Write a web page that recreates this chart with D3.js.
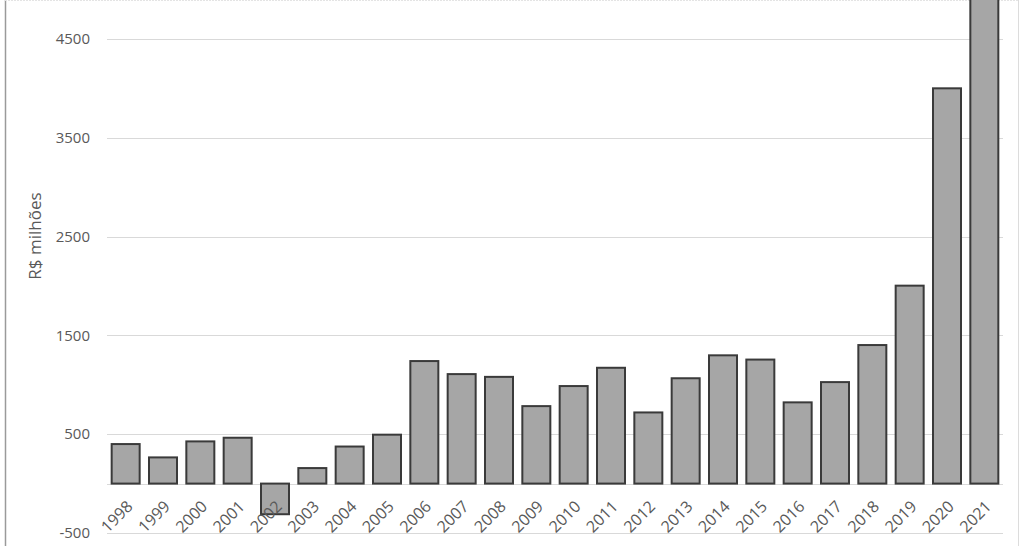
<!DOCTYPE html>
<html>
<head>
<meta charset="utf-8">
<script src="https://cdn.jsdelivr.net/npm/d3@7"></script>
<style>
  html, body { margin: 0; padding: 0; background: #fff; }
  svg { display: block; }
  text { font-family: "Open Sans", "Noto Sans", sans-serif; fill: #595959; }
</style>
</head>
<body>
<svg id="chart" width="1024" height="546"></svg>
<script>
const years = ["1998","1999","2000","2001","2002","2003","2004","2005","2006","2007","2008","2009","2010","2011","2012","2013","2014","2015","2016","2017","2018","2019","2020","2021"];
const values = [400, 265, 427, 464, -310, 157, 375, 495, 1240, 1108, 1080, 784, 987, 1172, 720, 1066, 1298, 1255, 822, 1027, 1402, 2003, 4000, 5100];
const yTicks = [-500, 500, 1500, 2500, 3500, 4500];
const yTitle = "R$ milhões";

const W = 1024, H = 546;
const svg = d3.select("#chart");

const x = d3.scaleBand().domain(years).range([107, 1003]).paddingInner(0.25).paddingOuter(0.125);
const y = d3.scaleLinear().domain([-500, 5000]).range([533, -10.5]);

// frame
svg.append("line").attr("x1", 5.5).attr("x2", 5.5).attr("y1", 0).attr("y2", H).attr("stroke", "#9a9a9a").attr("stroke-width", 1.5);
svg.append("line").attr("x1", 1018.5).attr("x2", 1018.5).attr("y1", 0).attr("y2", H).attr("stroke", "#dcdcdc").attr("stroke-width", 1);
svg.append("line").attr("x1", 5).attr("x2", 1018).attr("y1", 0.5).attr("y2", 0.5).attr("stroke", "#e4e4e4").attr("stroke-width", 1).attr("stroke-dasharray", "2,1");

// gridlines
const gridVals = yTicks.concat([0]);
svg.append("g").selectAll("line").data(gridVals).join("line")
  .attr("x1", 107).attr("x2", 1003)
  .attr("y1", d => Math.round(y(d)) + 0.5).attr("y2", d => Math.round(y(d)) + 0.5)
  .attr("stroke", "#d9d9d9").attr("stroke-width", 1);

// y axis labels
const yAxis = d3.axisLeft(y).tickValues(yTicks).tickSize(0).tickPadding(0).tickFormat(d => String(d));
const gy = svg.append("g").attr("transform", "translate(90,0)").call(yAxis);
gy.select(".domain").remove();
gy.selectAll("text").attr("font-size", 15).attr("fill", "#595959").style("font-family", '"Open Sans", sans-serif');

// bars
svg.append("g").selectAll("rect").data(values).join("rect")
  .attr("x", (d, i) => x(years[i]))
  .attr("width", x.bandwidth())
  .attr("y", d => y(Math.max(0, d)))
  .attr("height", d => Math.abs(y(d) - y(0)))
  .attr("fill", "#a6a6a6")
  .attr("stroke", "#3a3a3a")
  .attr("stroke-width", 2);

// x labels
const xAxis = d3.axisBottom(x).tickSize(0).tickPadding(0);
const gx = svg.append("g").attr("transform", "translate(0," + y(0) + ")").call(xAxis);
gx.select(".domain").remove();
gx.selectAll("text")
  .attr("font-size", 16)
  .attr("fill", "#505050")
  .style("font-family", '"Open Sans", sans-serif')
  .attr("text-anchor", "end")
  .attr("dy", null)
  .attr("y", 0)
  .attr("transform", "translate(8,24) rotate(-45)");

// y title
svg.append("text")
  .attr("transform", "translate(41,236) rotate(-90)")
  .attr("text-anchor", "middle")
  .attr("font-size", 17)
  .text(yTitle);
</script>
</body>
</html>
